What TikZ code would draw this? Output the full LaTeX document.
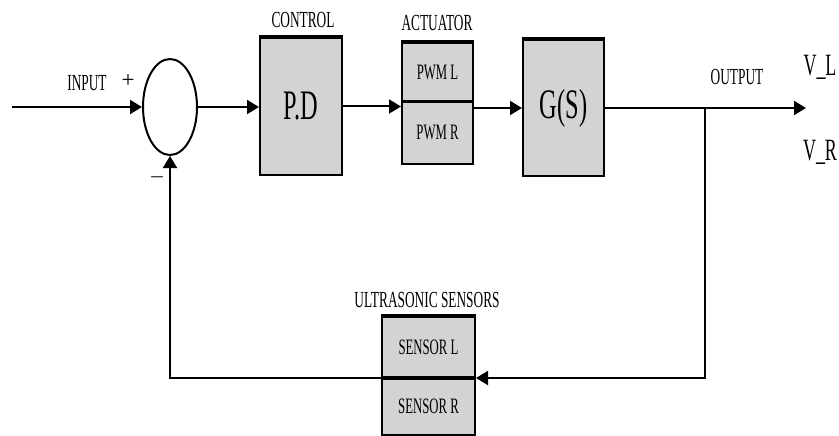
\documentclass[tikz,border=0pt]{standalone}
\usepackage{fontspec}
\setmainfont{Liberation Serif}
\usetikzlibrary{arrows.meta,shapes.geometric}
\definecolor{boxgray}{RGB}{211,211,211}
\newcommand{\sq}[1]{\scalebox{0.58}[1]{#1}}
\newcommand{\fs}[1]{\fontsize{#1}{#1}\selectfont}
\tikzset{
  blk/.style={draw=black, line width=2pt, fill=boxgray, inner sep=0pt},
  lbl/.style={inner sep=0pt, font=\fs{23}},
  arr/.style={line width=2pt, -{Triangle[length=12pt,width=14pt]}},
  topedge/.style={line width=3.5pt}
}
\begin{document}
\begin{tikzpicture}[x=1pt,y=-1pt]
\useasboundingbox (0,0) rectangle (839,436);

% summing junction
\node[draw=black, line width=2pt, ellipse, minimum width=54pt, minimum height=96pt, inner sep=0pt] (sum) at (170,107) {};

% blocks
\node[blk, minimum width=82pt, minimum height=137pt, font=\fs{42}] (pd) at (301,106.5) {\sq{P.D}};
\node[blk, minimum width=71pt, minimum height=58pt, font=\fs{22}] (pwml) at (437.5,72) {\sq{PWM L}};
\node[blk, minimum width=71pt, minimum height=63pt, font=\fs{22}] (pwmr) at (437.5,132.5) {\sq{PWM R}};
\node[blk, minimum width=81pt, minimum height=136pt, font=\fs{42}] (gs) at (563.5,108) {\sq{G(S)}};
\node[blk, minimum width=93pt, minimum height=60pt, font=\fs{22}] (sensl) at (428.5,347) {\sq{SENSOR L}};
\node[blk, minimum width=93pt, minimum height=58pt, font=\fs{22}] (sensr) at (428.5,406) {\sq{SENSOR R}};

% heavier top edges
\draw[topedge] (pd.north west) -- (pd.north east);
\draw[topedge] (pwml.north west) -- (pwml.north east);
\draw[topedge] (gs.north west) -- (gs.north east);
\draw[topedge] (sensl.north west) -- (sensl.north east);
\draw[line width=3pt] (pwml.south west) -- (pwml.south east);
\draw[line width=3pt] (sensl.south west) -- (sensl.south east);

% labels
\node[lbl] (tcontrol) at (303,20) {\sq{CONTROL}};
\node[lbl] (tact) at (437,23) {\sq{ACTUATOR}};
\node[lbl] (tin) at (87,83) {\sq{INPUT}};
\node[lbl] (tplus) at (128,81) {+};
\node[lbl] (tminus) at (157,177) {\scalebox{0.8}[1]{$-$}};
\node[lbl] (tout) at (737,77) {\sq{OUTPUT}};
\node[lbl, font=\fs{31}] (tvl) at (820,67) {\sq{V\_L}};
\node[lbl, font=\fs{31}] (tvr) at (820,152) {\sq{V\_R}};
\node[lbl] (tsens) at (427,300) {\sq{ULTRASONIC SENSORS}};

% signal paths
\coordinate (src) at (12,107);
\coordinate (outend) at (806,108);
\coordinate (tap) at (705,108);
\draw[arr] (src) -- (sum.west);
\draw[arr] (sum.east) -- (sum.east -| pd.west);
\draw[arr] (pd.east) -- (pd.east -| pwmr.west);
\draw[arr] (gs.west -| pwmr.east) -- (gs.west);
\draw[arr] (gs.east) -- (outend);
\draw[arr] (tap) |- (sensl.south east);
\draw[arr] (sensl.south west) -| (sum.south);
\end{tikzpicture}
\end{document}
